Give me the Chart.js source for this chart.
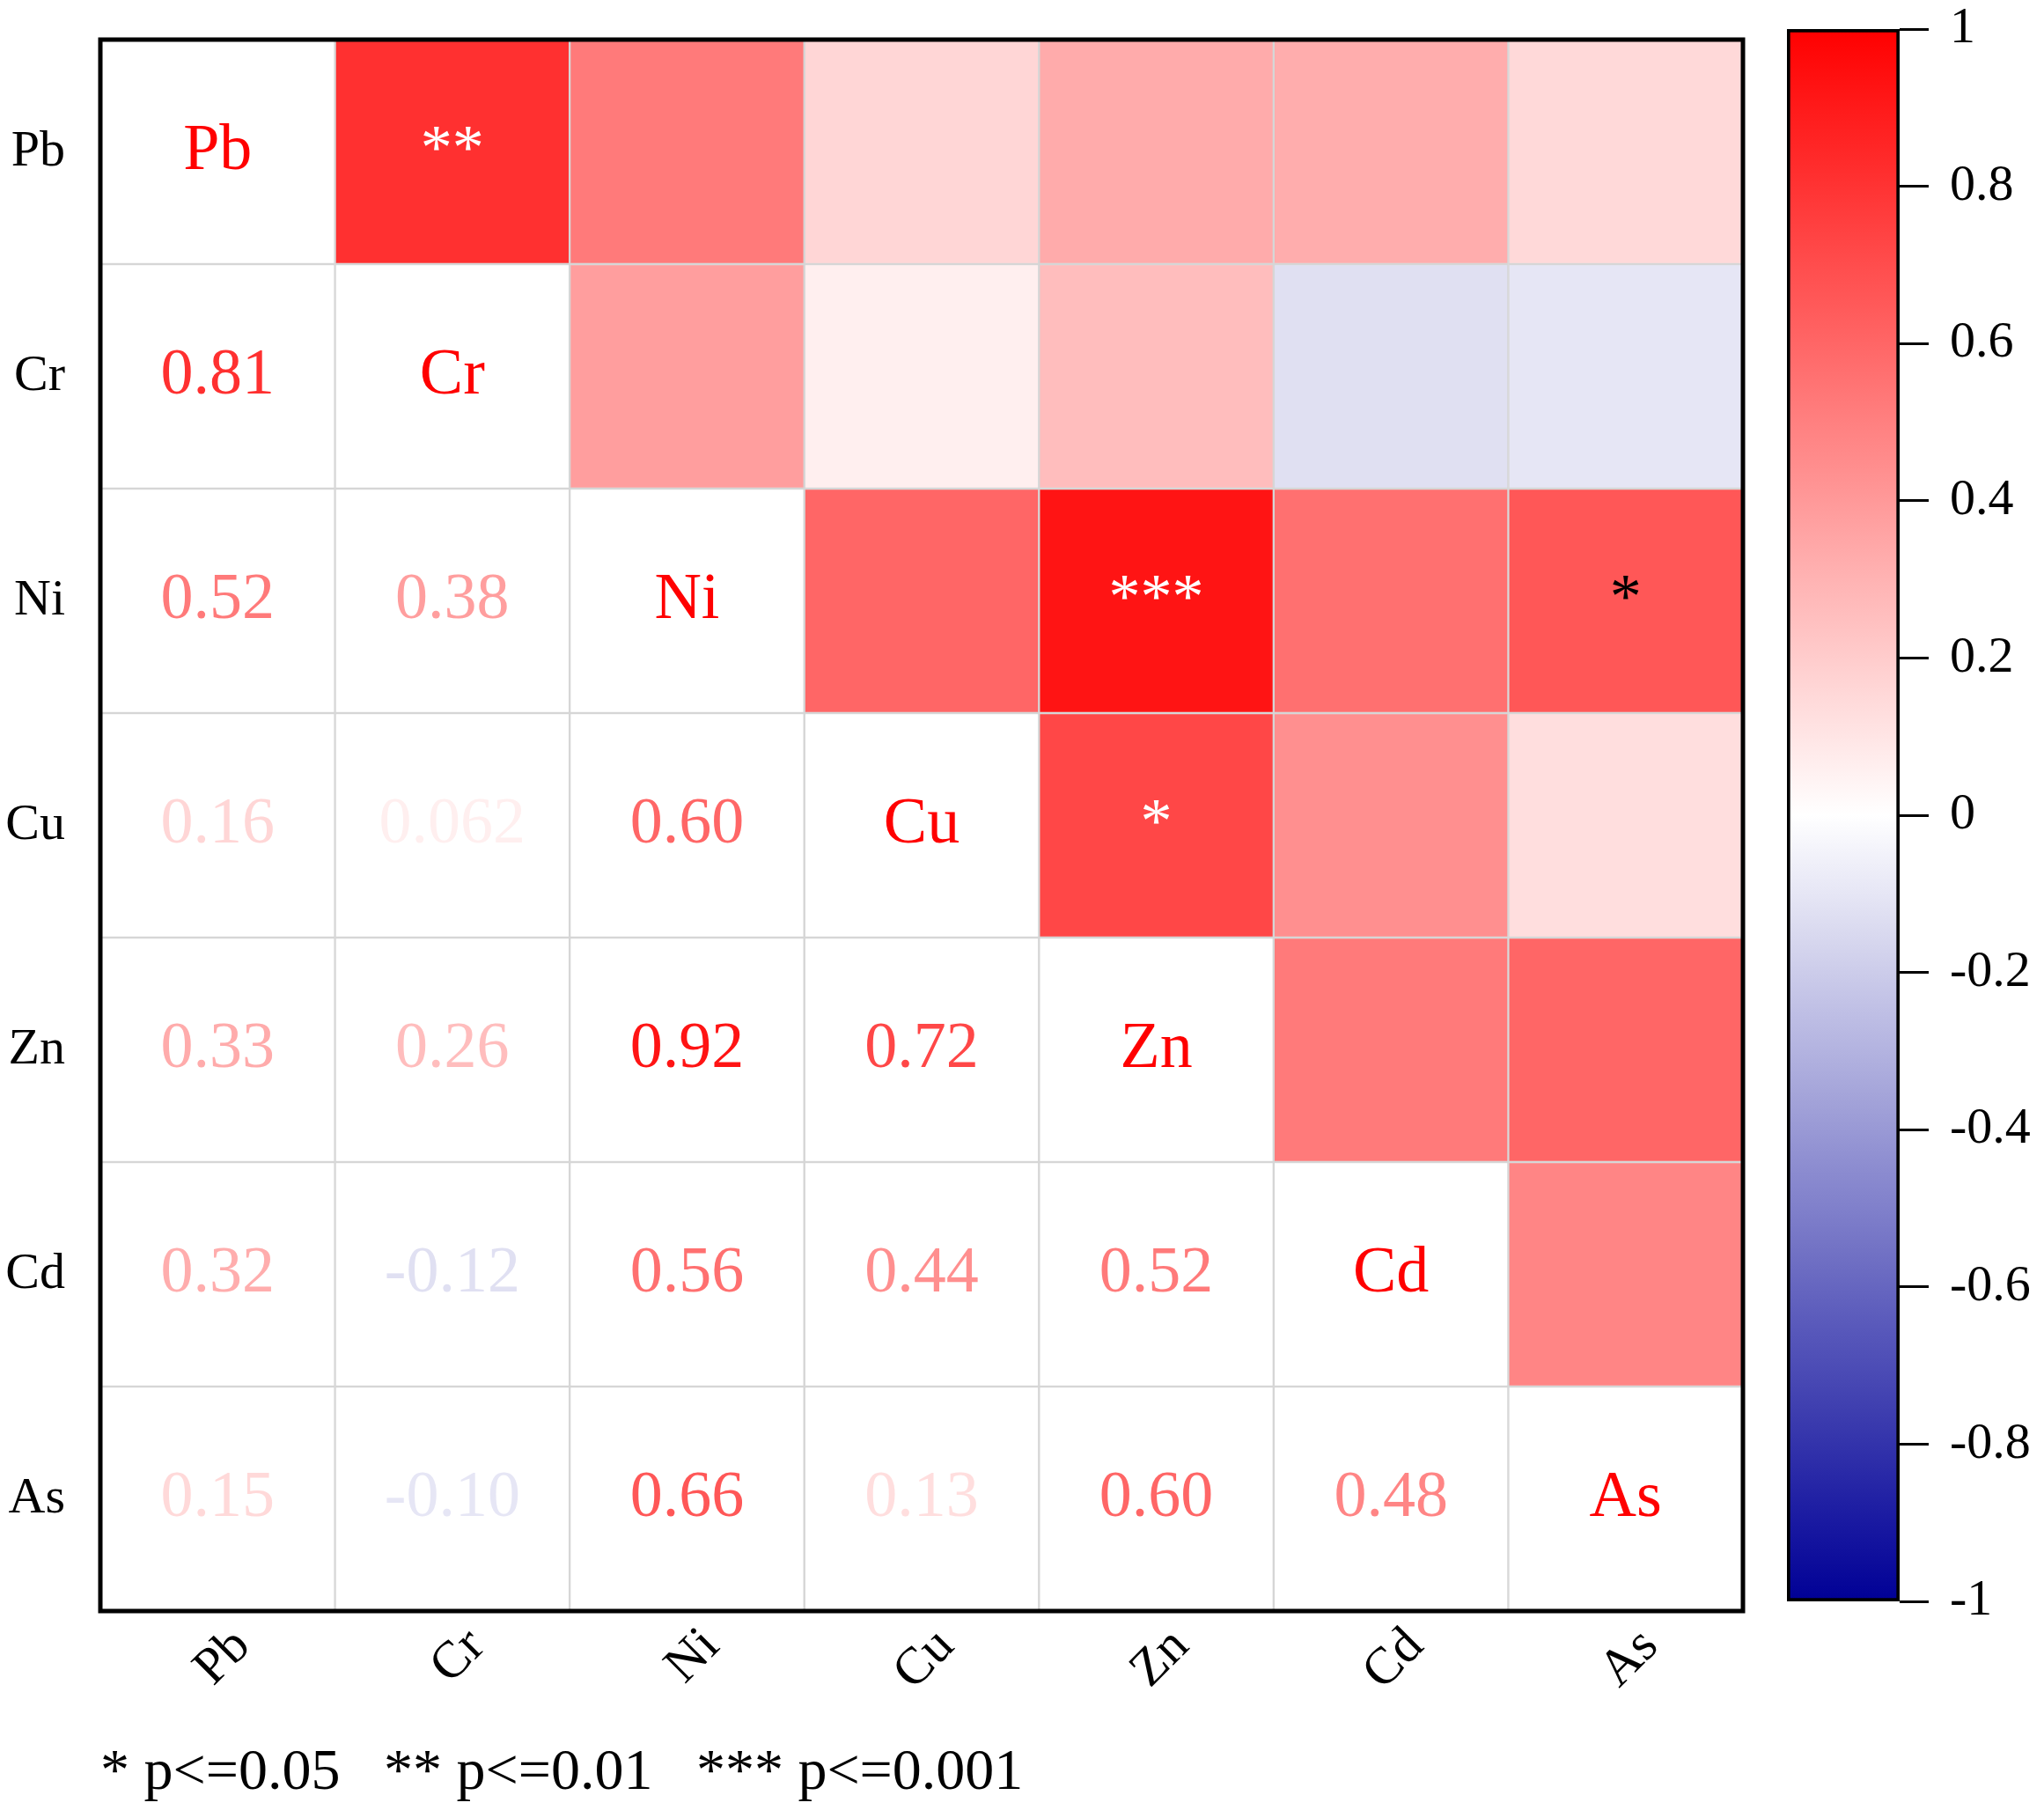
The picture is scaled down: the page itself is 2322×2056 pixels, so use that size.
<!DOCTYPE html>
<html>
<head>
<meta charset="utf-8">
<script src="https://cdn.jsdelivr.net/npm/chart.js@4.4.1/dist/chart.umd.min.js"></script>
<style>
  html, body { margin: 0; padding: 0; background: #fff; }
  #wrap { position: relative; width: 2322px; height: 2056px; background: #fff; }
  #heat { position: absolute; left: 0; top: 0; }
  #bar { position: absolute; left: 1984px; top: 0; }
</style>
</head>
<body>
<div id="wrap">
  <canvas id="heat" width="2010" height="2056"></canvas>
  <canvas id="bar" width="338" height="2056"></canvas>
</div>
<script>
const elements = ['Pb', 'Cr', 'Ni', 'Cu', 'Zn', 'Cd', 'As'];

// correlation matrix, one row per element
const rPb = [1, 0.81, 0.52, 0.16, 0.33, 0.32, 0.15];
const rCr = [0.81, 1, 0.38, 0.062, 0.26, -0.12, -0.10];
const rNi = [0.52, 0.38, 1, 0.60, 0.92, 0.56, 0.66];
const rCu = [0.16, 0.062, 0.60, 1, 0.72, 0.44, 0.13];
const rZn = [0.33, 0.26, 0.92, 0.72, 1, 0.52, 0.60];
const rCd = [0.32, -0.12, 0.56, 0.44, 0.52, 1, 0.48];
const rAs = [0.15, -0.10, 0.66, 0.13, 0.60, 0.48, 1];
const matrix = [rPb, rCr, rNi, rCu, rZn, rCd, rAs];

// significance marks (upper triangle)
const sigPb = ['', '**', '', '', '', '', ''];
const sigCr = ['', '', '', '', '', '', ''];
const sigNi = ['', '', '', '', '***', '', '*'];
const sigCu = ['', '', '', '', '*', '', ''];
const sigZn = ['', '', '', '', '', '', ''];
const sigCd = ['', '', '', '', '', '', ''];
const sigAs = ['', '', '', '', '', '', ''];
const stars = [sigPb, sigCr, sigNi, sigCu, sigZn, sigCd, sigAs];

const colorbarTicks = [-1, -0.8, -0.6, -0.4, -0.2, 0, 0.2, 0.4, 0.6, 0.8, 1];
const footnote = '* p<=0.05   ** p<=0.01   *** p<=0.001';

const serif = '"Liberation Serif", "Times New Roman", serif';
const n = elements.length;

// white -> red for positive, white -> navy for negative
function cmap(v) {
    if (v >= 0) {
        const k = Math.round(255 * (1 - v));
        return `rgb(255,${k},${k})`;
    }
    const t = -v;
    const k = Math.round(255 * (1 - t));
    return `rgb(${k},${k},${Math.round(255 - 105 * t)})`;
}

function fmt(v) {
    return Math.abs(v) < 0.1 && v !== -0.1 && v !== 0.1 ? v.toPrecision(2) : v.toFixed(2);
}

function starColor(r, c) {
    return (elements[r] === 'Ni' && elements[c] === 'As') ? '#000000' : '#ffffff';
}

// stop the axes from reserving extra room for their end labels
function noPad(scale) {
    scale.paddingTop = 0;
    scale.paddingBottom = 0;
    scale.paddingLeft = 0;
    scale.paddingRight = 0;
}

const cellText = {
    id: 'cellText',
    afterDatasetsDraw(chart) {
        const { ctx, scales: { x, y } } = chart;
        ctx.save();
        ctx.textAlign = 'center';
        ctx.textBaseline = 'middle';
        for (let r = 0; r < n; r++) {
            for (let c = 0; c < n; c++) {
                const px = x.getPixelForValue(c);
                const py = y.getPixelForValue(n - r - 0.5);
                if (c === r) {
                    ctx.font = `74px ${serif}`;
                    ctx.fillStyle = cmap(1);
                    ctx.fillText(elements[r], px, py);
                } else if (c < r) {
                    ctx.font = `74px ${serif}`;
                    ctx.fillStyle = cmap(matrix[r][c]);
                    ctx.fillText(fmt(matrix[r][c]), px, py);
                } else if (stars[r][c]) {
                    ctx.font = `72px ${serif}`;
                    ctx.fillStyle = starColor(r, c);
                    ctx.fillText(stars[r][c], px, py);
                }
            }
        }
        ctx.restore();
    }
};

const frame = {
    id: 'frame',
    afterDraw(chart) {
        const { ctx, chartArea: a } = chart;
        ctx.save();
        ctx.strokeStyle = '#000';
        ctx.lineWidth = 5;
        ctx.strokeRect(a.left, a.top, a.right - a.left, a.bottom - a.top);
        ctx.restore();
    }
};

const datasets = elements.map((name, r) => ({
    label: name,
    data: elements.map(() => [n - 1 - r, n - r]),
    backgroundColor: elements.map((_, c) => c > r ? cmap(matrix[r][c]) : '#ffffff'),
    borderColor: '#d6d6d6',
    borderWidth: 1.5,
    borderSkipped: false,
    barPercentage: 1,
    categoryPercentage: 1,
    grouped: false
}));

new Chart(document.getElementById('heat'), {
    type: 'bar',
    data: { labels: elements, datasets },
    options: {
        responsive: false,
        animation: false,
        devicePixelRatio: 1,
        layout: { padding: { top: 45, right: 30, left: 0, bottom: 0 } },
        plugins: { legend: { display: false }, tooltip: { enabled: false } },
        scales: {
            x: {
                grid: { display: false, drawTicks: false },
                border: { display: false },
                ticks: {
                    color: '#000',
                    font: { family: serif, size: 59 },
                    minRotation: 45,
                    maxRotation: 45,
                    autoSkip: false,
                    padding: 6,
                    labelOffset: 28
                },
                title: {
                    display: true,
                    text: footnote,
                    align: 'start',
                    color: '#000',
                    font: { family: serif, size: 66 },
                    padding: { top: 0, bottom: 2 }
                },
                afterFit(scale) {
                    noPad(scale);
                    scale.height = 226;
                }
            },
            y: {
                min: 0,
                max: n,
                grid: { display: false, drawTicks: false },
                border: { display: false },
                afterBuildTicks(axis) {
                    axis.ticks = elements.map((_, i) => ({ value: n - i - 0.5 }));
                },
                ticks: {
                    color: '#000',
                    font: { family: serif, size: 58 },
                    padding: 40,
                    callback: (v) => elements[Math.round(n - 0.5 - v)]
                },
                afterFit(scale) {
                    noPad(scale);
                    scale.width = 114;
                }
            }
        }
    },
    plugins: [cellText, frame]
});

// colour bar
new Chart(document.getElementById('bar'), {
    type: 'bar',
    data: {
        labels: ['r'],
        datasets: [{
            data: [[colorbarTicks[0], colorbarTicks[colorbarTicks.length - 1]]],
            backgroundColor(context) {
                const { chart } = context;
                if (!chart.chartArea) return '#fff';
                const ys = chart.scales.y;
                const g = chart.ctx.createLinearGradient(0, ys.getPixelForValue(-1), 0, ys.getPixelForValue(1));
                for (let i = 0; i <= 40; i++) {
                    g.addColorStop(i / 40, cmap(-1 + i / 20));
                }
                return g;
            },
            borderColor: '#000',
            borderWidth: 4,
            borderSkipped: false,
            barPercentage: 1,
            categoryPercentage: 1
        }]
    },
    options: {
        responsive: false,
        animation: false,
        devicePixelRatio: 1,
        layout: { padding: { top: 33, left: 46, right: 0, bottom: 237 } },
        plugins: { legend: { display: false }, tooltip: { enabled: false } },
        scales: {
            x: { display: false },
            y: {
                position: 'right',
                min: -1,
                max: 1,
                afterBuildTicks(axis) {
                    axis.ticks = colorbarTicks.map(v => ({ value: v }));
                },
                grid: { drawOnChartArea: false, drawTicks: true, tickLength: 33, color: '#000', lineWidth: 3 },
                border: { display: false },
                ticks: {
                    color: '#000',
                    font: { family: serif, size: 58 },
                    padding: 24,
                    callback: (v) => String(Math.round(v * 10) / 10)
                },
                afterFit(scale) {
                    noPad(scale);
                    scale.width = 164;
                }
            }
        }
    }
});
</script>
</body>
</html>
